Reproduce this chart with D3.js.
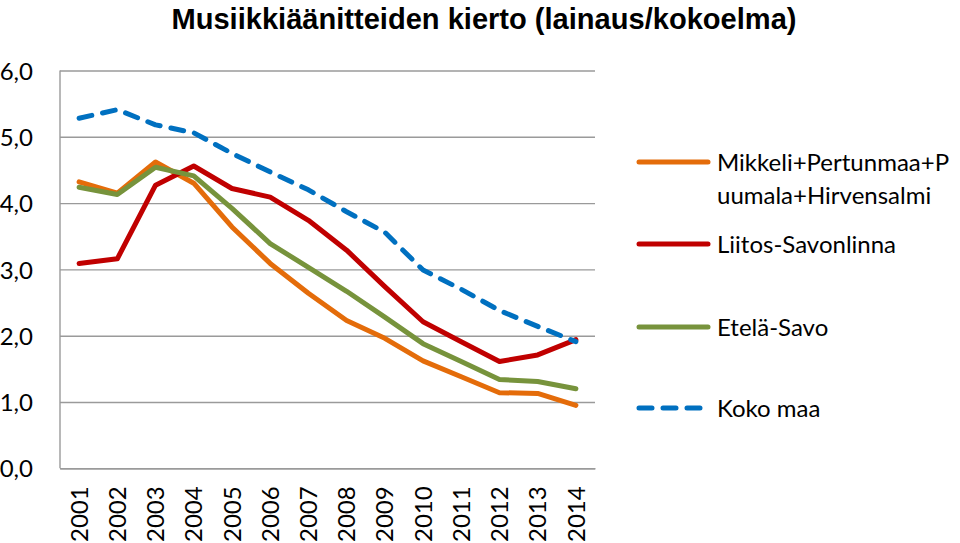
<!DOCTYPE html>
<html>
<head>
<meta charset="utf-8">
<script src="https://cdn.jsdelivr.net/npm/d3@7"></script>
<style>
  body { margin: 0; background: #fff; }
  svg { display: block; }
</style>
</head>
<body>
<svg id="chart" width="960" height="543"></svg>
<script>
const years = ["2001","2002","2003","2004","2005","2006","2007","2008","2009","2010","2011","2012","2013","2014"];
const yTicks = [0, 1, 2, 3, 4, 5, 6];
const seriesNames = ["Mikkeli+Pertunmaa+Puumala+Hirvensalmi", "Liitos-Savonlinna", "Etelä-Savo", "Koko maa"];
const mikkeli = [4.32, 4.15, 4.62, 4.30, 3.64, 3.09, 2.64, 2.23, 1.96, 1.62, 1.38, 1.14, 1.13, 0.95];
const liitos  = [3.09, 3.16, 4.27, 4.56, 4.22, 4.09, 3.74, 3.29, 2.74, 2.21, 1.91, 1.61, 1.71, 1.94];
const etela   = [4.24, 4.13, 4.54, 4.41, 3.92, 3.39, 3.03, 2.67, 2.28, 1.88, 1.61, 1.34, 1.31, 1.20];
const koko    = [5.28, 5.41, 5.18, 5.06, 4.75, 4.47, 4.20, 3.87, 3.56, 2.99, 2.70, 2.38, 2.14, 1.91];

const colors = ["#E46C0A", "#C00000", "#77933C", "#0070C0"];
const allSeries = [mikkeli, liitos, etela, koko];

const svg = d3.select("#chart");
const font = "Lato, 'Open Sans', sans-serif";

const plotLeft = 60, plotRight = 595, plotTop = 70.5, plotBottom = 468.3;

const x = d3.scaleBand().domain(years).range([plotLeft, plotRight]);
const y = d3.scaleLinear().domain([0, 6]).range([plotBottom, plotTop]);

// Title
svg.append("text")
  .attr("x", 484).attr("y", 29)
  .attr("text-anchor", "middle")
  .attr("textLength", 625)
  .attr("lengthAdjust", "spacingAndGlyphs")
  .style("font-family", "'Liberation Sans Narrow', 'Liberation Sans', Arial, sans-serif")
  .style("font-weight", "bold")
  .style("font-size", "30px")
  .attr("fill", "#000")
  .text("Musiikkiäänitteiden kierto (lainaus/kokoelma)");

// Gridlines
const yAxis = d3.axisLeft(y).tickValues(yTicks).tickSize(-(plotRight - plotLeft)).tickFormat(d => d3.format(".1f")(d).replace(".", ","));
const gy = svg.append("g").attr("transform", `translate(${plotLeft},0)`).call(yAxis);
gy.select(".domain").remove();
gy.selectAll(".tick line").attr("stroke", "#9a9a9a").attr("stroke-width", 1.4);
gy.selectAll(".tick text")
  .attr("x", -27).attr("text-anchor", "end").attr("dy", "0.36em")
  .style("font-family", font).style("font-size", "24px").attr("fill", "#000");

// Left axis line
svg.append("line").attr("x1", plotLeft).attr("x2", plotLeft).attr("y1", plotTop).attr("y2", plotBottom)
  .attr("stroke", "#9a9a9a").attr("stroke-width", 1.4);

// X axis
const xAxis = d3.axisBottom(x).tickSize(0);
const gx = svg.append("g").attr("transform", `translate(0,${plotBottom})`).call(xAxis);
gx.select(".domain").attr("stroke", "#9a9a9a").attr("stroke-width", 1.4);
gx.selectAll(".tick text")
  .attr("transform", "rotate(-90)")
  .attr("x", -18).attr("y", 0).attr("dy", "0.36em")
  .attr("text-anchor", "end")
  .style("font-family", font).style("font-size", "24px").attr("fill", "#000");

// Lines
const line = d3.line()
  .x((d, i) => x(years[i]) + x.bandwidth() / 2)
  .y(d => y(d));

allSeries.forEach((s, i) => {
  const p = svg.append("path")
    .datum(s)
    .attr("d", line)
    .attr("fill", "none")
    .attr("stroke", colors[i])
    .attr("stroke-width", 5)
    .attr("stroke-linejoin", "round")
    .attr("stroke-linecap", "round");
  if (i === 3) p.attr("stroke-dasharray", "13,11");
});

// Legend
const legendItems = [
  { lines: ["Mikkeli+Pertunmaa+P", "uumala+Hirvensalmi"], y: 162 },
  { lines: ["Liitos-Savonlinna"], y: 244 },
  { lines: ["Etelä-Savo"], y: 327 },
  { lines: ["Koko maa"], y: 408 }
];
legendItems.forEach((item, i) => {
  const g = svg.append("g");
  const l = g.append("line")
    .attr("x1", 639).attr("x2", 708)
    .attr("y1", item.y).attr("y2", item.y)
    .attr("stroke", colors[i]).attr("stroke-width", 5)
    .attr("stroke-linecap", "round");
  if (i === 3) l.attr("x1", 639).attr("x2", 700).attr("stroke-dasharray", "13,11");
  const t = g.append("text")
    .attr("x", 717).attr("y", item.y)
    .style("font-family", font).style("font-size", "24px").attr("fill", "#000");
  item.lines.forEach((ln, j) => {
    t.append("tspan").attr("x", 717).attr("y", item.y + j * 33).attr("dy", "0.36em").text(ln);
  });
});
</script>
</body>
</html>
